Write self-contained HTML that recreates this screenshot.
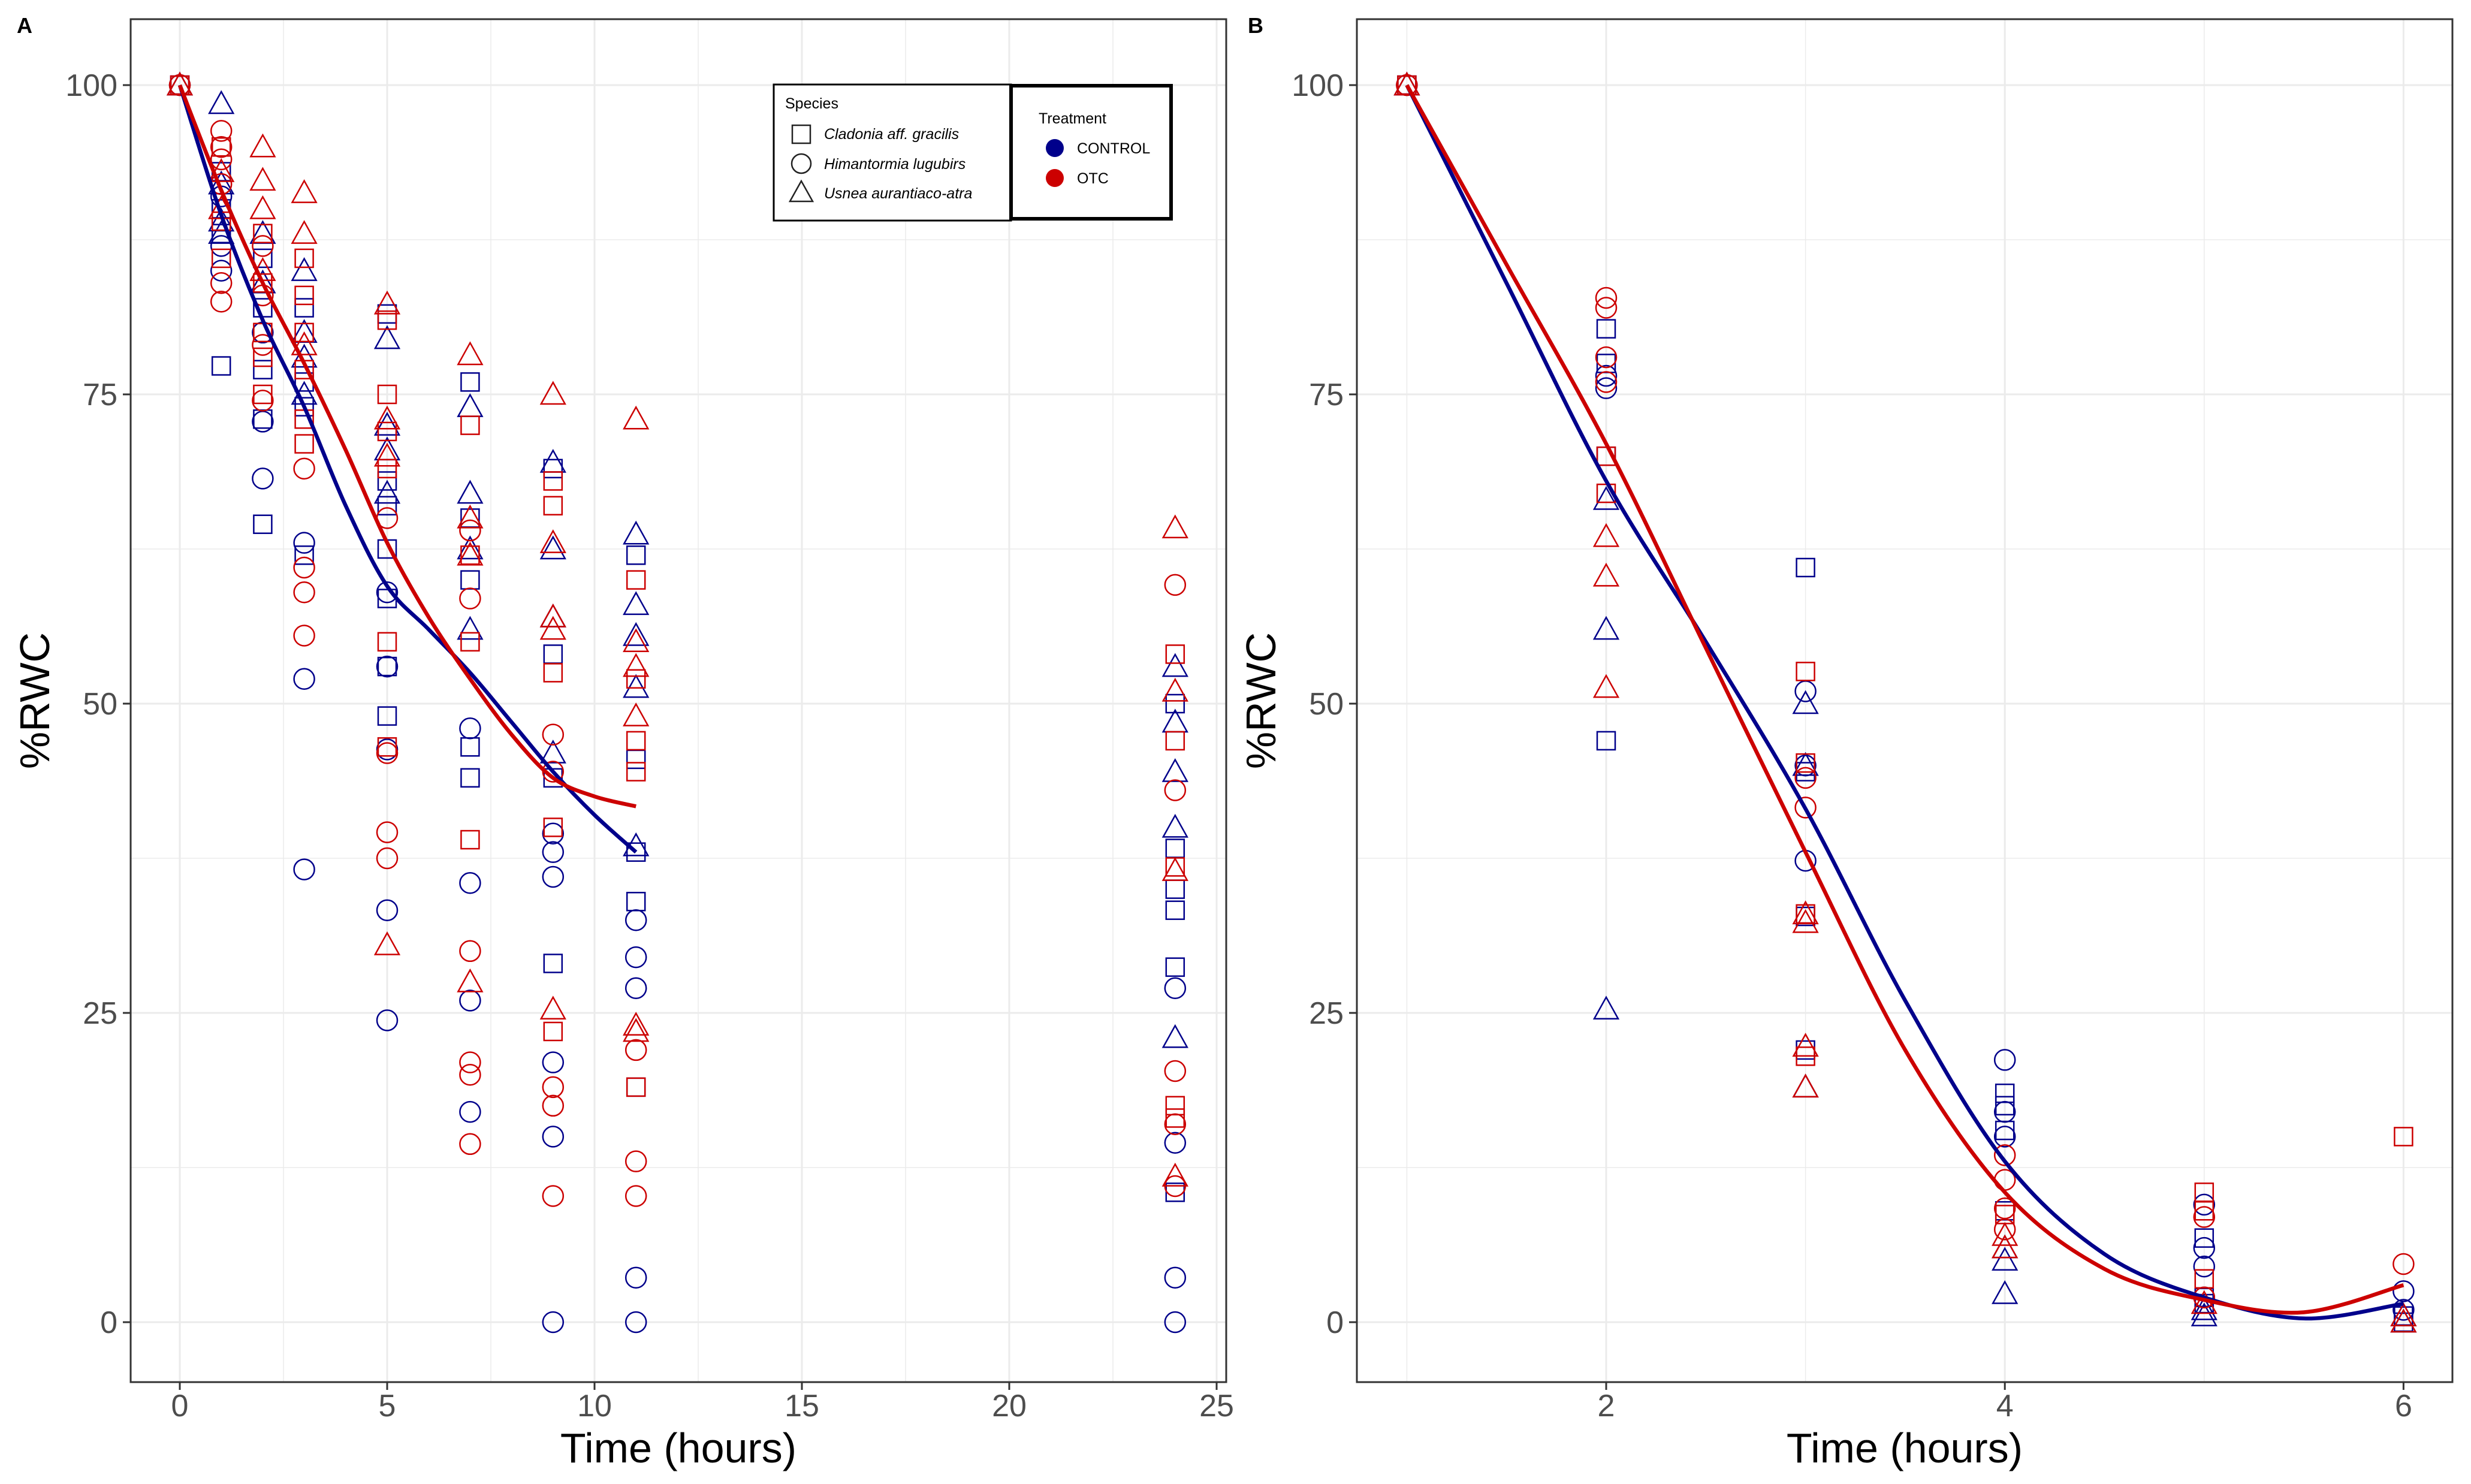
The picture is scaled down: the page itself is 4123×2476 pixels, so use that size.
<!DOCTYPE html>
<html><head><meta charset="utf-8">
<style>
html,body{margin:0;padding:0;background:#fff;}
svg{display:block;font-family:"Liberation Sans",Arial,sans-serif;}
</style></head>
<body>
<svg id="fig" width="4123" height="2476" viewBox="0 0 4123 2476" xmlns="http://www.w3.org/2000/svg">
<rect width="4123" height="2476" fill="#fff"/>
<text x="28" y="55" font-size="36" font-weight="bold">A</text>
<text x="2082" y="55" font-size="36" font-weight="bold">B</text>
<g id="pa"></g>
<g id="pb"></g>
<g id="legend">
  <rect x="1291" y="141" width="396" height="227" fill="#fff" stroke="#000" stroke-width="3"/>
  <rect x="1687" y="143" width="267" height="222" fill="#fff" stroke="#000" stroke-width="6"/>
  <text x="1310" y="181" font-size="25">Species</text>
  <rect x="1322" y="209" width="30" height="30" fill="none" stroke="#222" stroke-width="2.5"/>
  <text x="1375" y="232" font-size="25" font-style="italic">Cladonia aff. gracilis</text>
  <circle cx="1337" cy="273" r="16" fill="none" stroke="#222" stroke-width="2.5"/>
  <text x="1375" y="282" font-size="25" font-style="italic">Himantormia lugubirs</text>
  <polygon points="1337,302 1318,336 1356,336" fill="none" stroke="#222" stroke-width="2.5"/>
  <text x="1375" y="331" font-size="25" font-style="italic">Usnea aurantiaco-atra</text>
  <text x="1733" y="206" font-size="25">Treatment</text>
  <circle cx="1760" cy="247" r="15" fill="#00008B"/>
  <text x="1797" y="256" font-size="25">CONTROL</text>
  <circle cx="1760" cy="297" r="15" fill="#CC0000"/>
  <text x="1797" y="306" font-size="25">OTC</text>
</g>
</svg>
<script>
// ---------- Panel A data ----------
const aTimes = [0,1,2,3,5,7,9,11,24];
const aCtrlSquare = [[100],[93,90,88,77.3],[86,82,77,73,64.5],[82,76,74,62],[81.5,68,66,62.5,58.5,53,49],[76,65,60,46.5,44],[69,54,44,29],[62,45.5,38,34,19],[50,38.3,35,33.3,28.7,10.5]];
const aCtrlCircle = [[100],[91,87,85],[80,72.8,68.2],[63,52,36.6],[59,53,46.3,33.3,24.4],[48,35.5,26,17],[39.5,38,36,21,15,0],[32.5,29.5,27,3.6,0],[27,14.5,3.6,0]];
const aCtrlTri = [[100],[98.5,92,89,88],[88,84],[85,80,78,75],[79.5,72.5,70.5,67],[74,67,62.5,56],[69.5,62.5,57,46],[63.7,58,55.5,51.3,38.5],[53,48.5,44.5,40,23]];
const aOtcSquare = [[100],[95,89,86],[88,84,80,78,75],[86,83,80,77,73,71],[81,75,72,69,55,46.5],[72.5,62,55,39],[68,66,52.5,40,23.5],[60,52,47,44.5,19],[54,47,36.8,17.5,16.5]];
const aOtcCircle = [[100],[96.3,95,94,92,84,82.5],[87,83,79,74.5],[69,61,59,55.5],[65,46,39.6,37.5],[64,58.5,30,21,20,14.4],[47.5,44.5,19,17.5,10.2],[22,13,10.2],[59.6,43,20.3,16,11]];
const aOtcTri = [[100],[93,90],[95,92.3,90,85],[91.3,88,79],[82.3,73,70,30.5],[78.2,65,62,27.5],[75,63,57,56,25.3],[73,55,53,49,24,23.5],[64.2,51,36.5,11.8]];
const aFitX = [0,1,2,3,4,5,6,7,8,9,10,11];
const aFitCtrl = [100,89.5,81,74,66,59.5,56,52.5,48.5,44.5,41,38];
const aFitOtc = [100,91.5,84,77.5,70.5,63,57,52,47.5,44,42.5,41.7];
const aXTicks = [0,5,10,15,20,25];
const yTicks = [0,25,50,75,100];
// ---------- Panel B data ----------
const bTimes = [1,2,3,4,5,6];
const bCtrlSquare = [[100],[80.3,77.5,70,47],[61,44.5,32.8,22],[18.5,17.5,15.5,9],[6.8,2,1.5],[0.5,0]];
const bCtrlCircle = [[100],[76.5,75.5],[51,45,37.3],[21.2,17,15],[9.5,6,4.5,2],[2.5,1]];
const bCtrlTri = [[100],[66.5,56,25.3],[50,45,19],[6,5,2.3],[1,0.5],[0.5,0]];
const bOtcSquare = [[100],[70,67],[52.6,45.2,33,21.5],[8.7],[10.5,9,3.5],[15]];
const bOtcCircle = [[100],[82.8,82,78,76],[44,41.6],[13.5,11.5,9.2,7.5],[8.5,2],[4.7]];
const bOtcTri = [[100],[63.5,60.3,51.3],[33,32.3,22.3,19],[7,6],[1.5],[0.5,0]];
const bFitX = [1,1.5,2,2.5,3,3.5,4,4.5,5,5.5,6];
const bFitCtrl = [100,84,68,55,41.5,26,13,5.5,2,0.3,1.5];
const bFitOtc = [100,85.5,71,54.5,38,22,10.5,4.3,1.8,0.8,3];
const bXTicks = [2,4,6];

const NS="http://www.w3.org/2000/svg";
const BLUE="#00008B", RED="#CC0000";
function mk(tag, attrs, parent){const e=document.createElementNS(NS,tag);for(const k in attrs)e.setAttribute(k,attrs[k]);parent.appendChild(e);return e;}

function panel(g, cfg){
  const L=cfg.left,R=cfg.right,T=32,B=2306;
  const y0=2206,y100=142;
  const ys=v=>y0+(y100-y0)*v/100;
  const xs=v=>cfg.x0px+(v-cfg.x0)*cfg.unit;
  // grid
  const grid=mk('g',{},g);
  
  
  for(let v=12.5; v<=112.5; v+=25){const y=ys(v); if(y>T&&y<B){const l=mk('line',{x1:L,x2:R,y1:y,y2:y,stroke:'#ebebeb','stroke-width':1.5},grid);}}
  for(const v of yTicks){const y=ys(v);mk('line',{x1:L,x2:R,y1:y,y2:y,stroke:'#ebebeb','stroke-width':3},grid);}
  for(const v of cfg.minorX){const x=xs(v);mk('line',{x1:x,x2:x,y1:T,y2:B,stroke:'#ebebeb','stroke-width':1.5},grid);}
  for(const v of cfg.xTicks){const x=xs(v);mk('line',{x1:x,x2:x,y1:T,y2:B,stroke:'#ebebeb','stroke-width':3},grid);}
  // points
  const pts=mk('g',{},g);
  
  
  const groups=[[cfg.cs,'square',BLUE],[cfg.cc,'circle',BLUE],[cfg.ct,'triangle',BLUE],[cfg.os,'square',RED],[cfg.oc,'circle',RED],[cfg.ot,'triangle',RED]];
  const r=17;
  for(const [arr,shape,col] of groups){
    arr.forEach((vals,i)=>{const x=xs(cfg.times[i]);vals.forEach(v=>{const y=ys(v);let e;
      if(shape==='square') e=mk('rect',{x:x-r+2,y:y-r+2,width:2*r-4,height:2*r-4,fill:'none',stroke:col,'stroke-width':2.5},pts);
      else if(shape==='circle') e=mk('circle',{cx:x,cy:y,r:r,fill:'none',stroke:col,'stroke-width':2.5},pts);
      else e=mk('polygon',{points:`${x},${y-r-3} ${x-r-3},${y+r-1} ${x+r+3},${y+r-1}`,fill:'none',stroke:col,'stroke-width':2.5},pts);
      
      
    });});
  }
  // fit lines
  function line(xa,ya,col,name){
    const d=xa.map((v,i)=>[xs(v),ys(ya[i])]);
    let p=`M${d[0][0]},${d[0][1]}`;
    for(let i=0;i<d.length-1;i++){const p0=d[Math.max(0,i-1)],p1=d[i],p2=d[i+1],p3=d[Math.min(d.length-1,i+2)];
      const c1=[p1[0]+(p2[0]-p0[0])/6,p1[1]+(p2[1]-p0[1])/6],c2=[p2[0]-(p3[0]-p1[0])/6,p2[1]-(p3[1]-p1[1])/6];
      p+=` C${c1[0]},${c1[1]} ${c2[0]},${c2[1]} ${p2[0]},${p2[1]}`;}
    const e=mk('path',{d:p,fill:'none',stroke:col,'stroke-width':6.5},g);
    
    
  }
  line(cfg.fx,cfg.fc,BLUE,'control-fit-line');
  line(cfg.fx,cfg.fo,RED,'otc-fit-line');
  // frame
  const fr=mk('rect',{x:L,y:T,width:R-L,height:B-T,fill:'none',stroke:'#333','stroke-width':3},g);
  
  
  // y ticks
  for(const v of yTicks){const y=ys(v);mk('line',{x1:L-13,x2:L,y1:y,y2:y,stroke:'#333','stroke-width':3},g);
    const t=mk('text',{x:L-22,y:y+18,'font-size':52,'text-anchor':'end',fill:'#4d4d4d'},g);t.textContent=v;
    
    }
  for(const v of cfg.xTicks){const x=xs(v);mk('line',{x1:x,x2:x,y1:B,y2:B+13,stroke:'#333','stroke-width':3},g);
    const t=mk('text',{x:x,y:B+57,'font-size':52,'text-anchor':'middle',fill:'#4d4d4d'},g);t.textContent=v;
    
    }
  const xt=mk('text',{x:(L+R)/2,y:2440,'font-size':70,'text-anchor':'middle',fill:'#000'},g);xt.textContent='Time (hours)';
  
  
  const yt=mk('text',{x:0,y:0,'font-size':70,'text-anchor':'middle',fill:'#000',transform:`translate(${cfg.ytx},${(T+B)/2}) rotate(-90)`},g);yt.textContent='%RWC';
  
  
}
panel(document.getElementById('pa'),{left:218,right:2046,x0:0,x0px:300,unit:69.2,times:aTimes,cs:aCtrlSquare,cc:aCtrlCircle,ct:aCtrlTri,os:aOtcSquare,oc:aOtcCircle,ot:aOtcTri,fx:aFitX,fc:aFitCtrl,fo:aFitOtc,xTicks:aXTicks,minorX:[2.5,7.5,12.5,17.5,22.5],ytx:82});
panel(document.getElementById('pb'),{left:2264,right:4092,x0:2,x0px:2680,unit:332.6,times:bTimes,cs:bCtrlSquare,cc:bCtrlCircle,ct:bCtrlTri,os:bOtcSquare,oc:bOtcCircle,ot:bOtcTri,fx:bFitX,fc:bFitCtrl,fo:bFitOtc,xTicks:bXTicks,minorX:[1,3,5],ytx:2128});
// keep legend on top
const svg=document.getElementById('fig');svg.appendChild(document.getElementById('legend'));
</script>
</body></html>
